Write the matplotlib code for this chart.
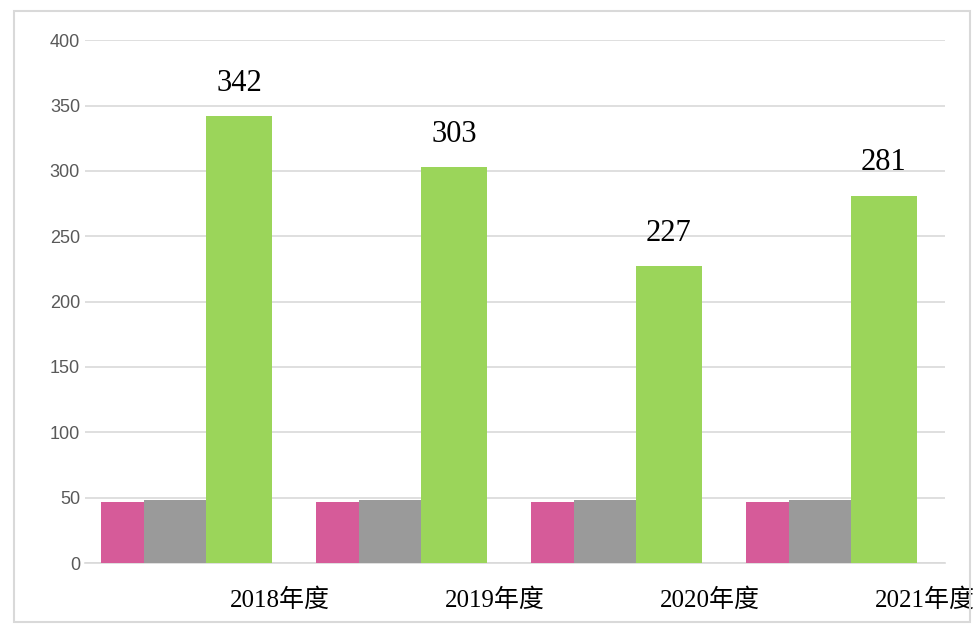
import matplotlib.pyplot as plt
import matplotlib.patches as patches
import numpy as np

# Données
annees = ['2018年度', '2019年度', '2020年度', '2021年度']
serie_verte = [342, 303, 227, 281]
serie_rose = [47, 47, 47, 47]
serie_grise = [48, 48, 48, 48]

plt.rcParams['font.family'] = ['Liberation Serif', 'Noto Sans CJK SC']

fig = plt.figure(figsize=(9.76, 6.28), dpi=100)
ax = fig.add_axes([0.087, 0.1035, 0.881, 0.8325])

x = np.arange(len(annees))

# Barres
ax.bar(x - 0.73, serie_rose, width=0.2, color='#d65b99', zorder=3)
ax.bar(x - 0.4875, serie_grise, width=0.285, color='#9a9a9a', zorder=3)
barres = ax.bar(x - 0.19, serie_verte, width=0.31, color='#9bd55a', zorder=3)

# Valeurs au-dessus des barres vertes
for b, v in zip(barres, serie_verte):
    ax.text(b.get_x() + b.get_width() / 2, v + 14, str(v),
            ha='center', va='bottom', fontsize=22, color='black')

# Axes
ax.set_ylim(0, 400)
ax.set_yticks(range(0, 401, 50))
ax.set_xlim(-0.907, 3.093)
ax.set_xticks(x)
ax.set_xticklabels(annees, fontsize=18)
ax.grid(axis='y', color='#d9d9d9', linewidth=1.2, zorder=0)
for s in ['top', 'right', 'left']:
    ax.spines[s].set_visible(False)
ax.spines['bottom'].set_color('#d9d9d9')
ax.spines['bottom'].set_linewidth(1.2)
ax.tick_params(axis='both', length=0)
ax.tick_params(axis='x', pad=18)
for lab in ax.get_yticklabels():
    lab.set_family('Liberation Sans')
    lab.set_fontsize(13)
    lab.set_color('#595959')

# Cadre du graphique
fig.patches.append(patches.Rectangle((0.014, 0.01), 0.98, 0.972, transform=fig.transFigure,
                                     fill=False, edgecolor='#d9d9d9', linewidth=1.5))

fig.savefig('out.png', dpi=100)
